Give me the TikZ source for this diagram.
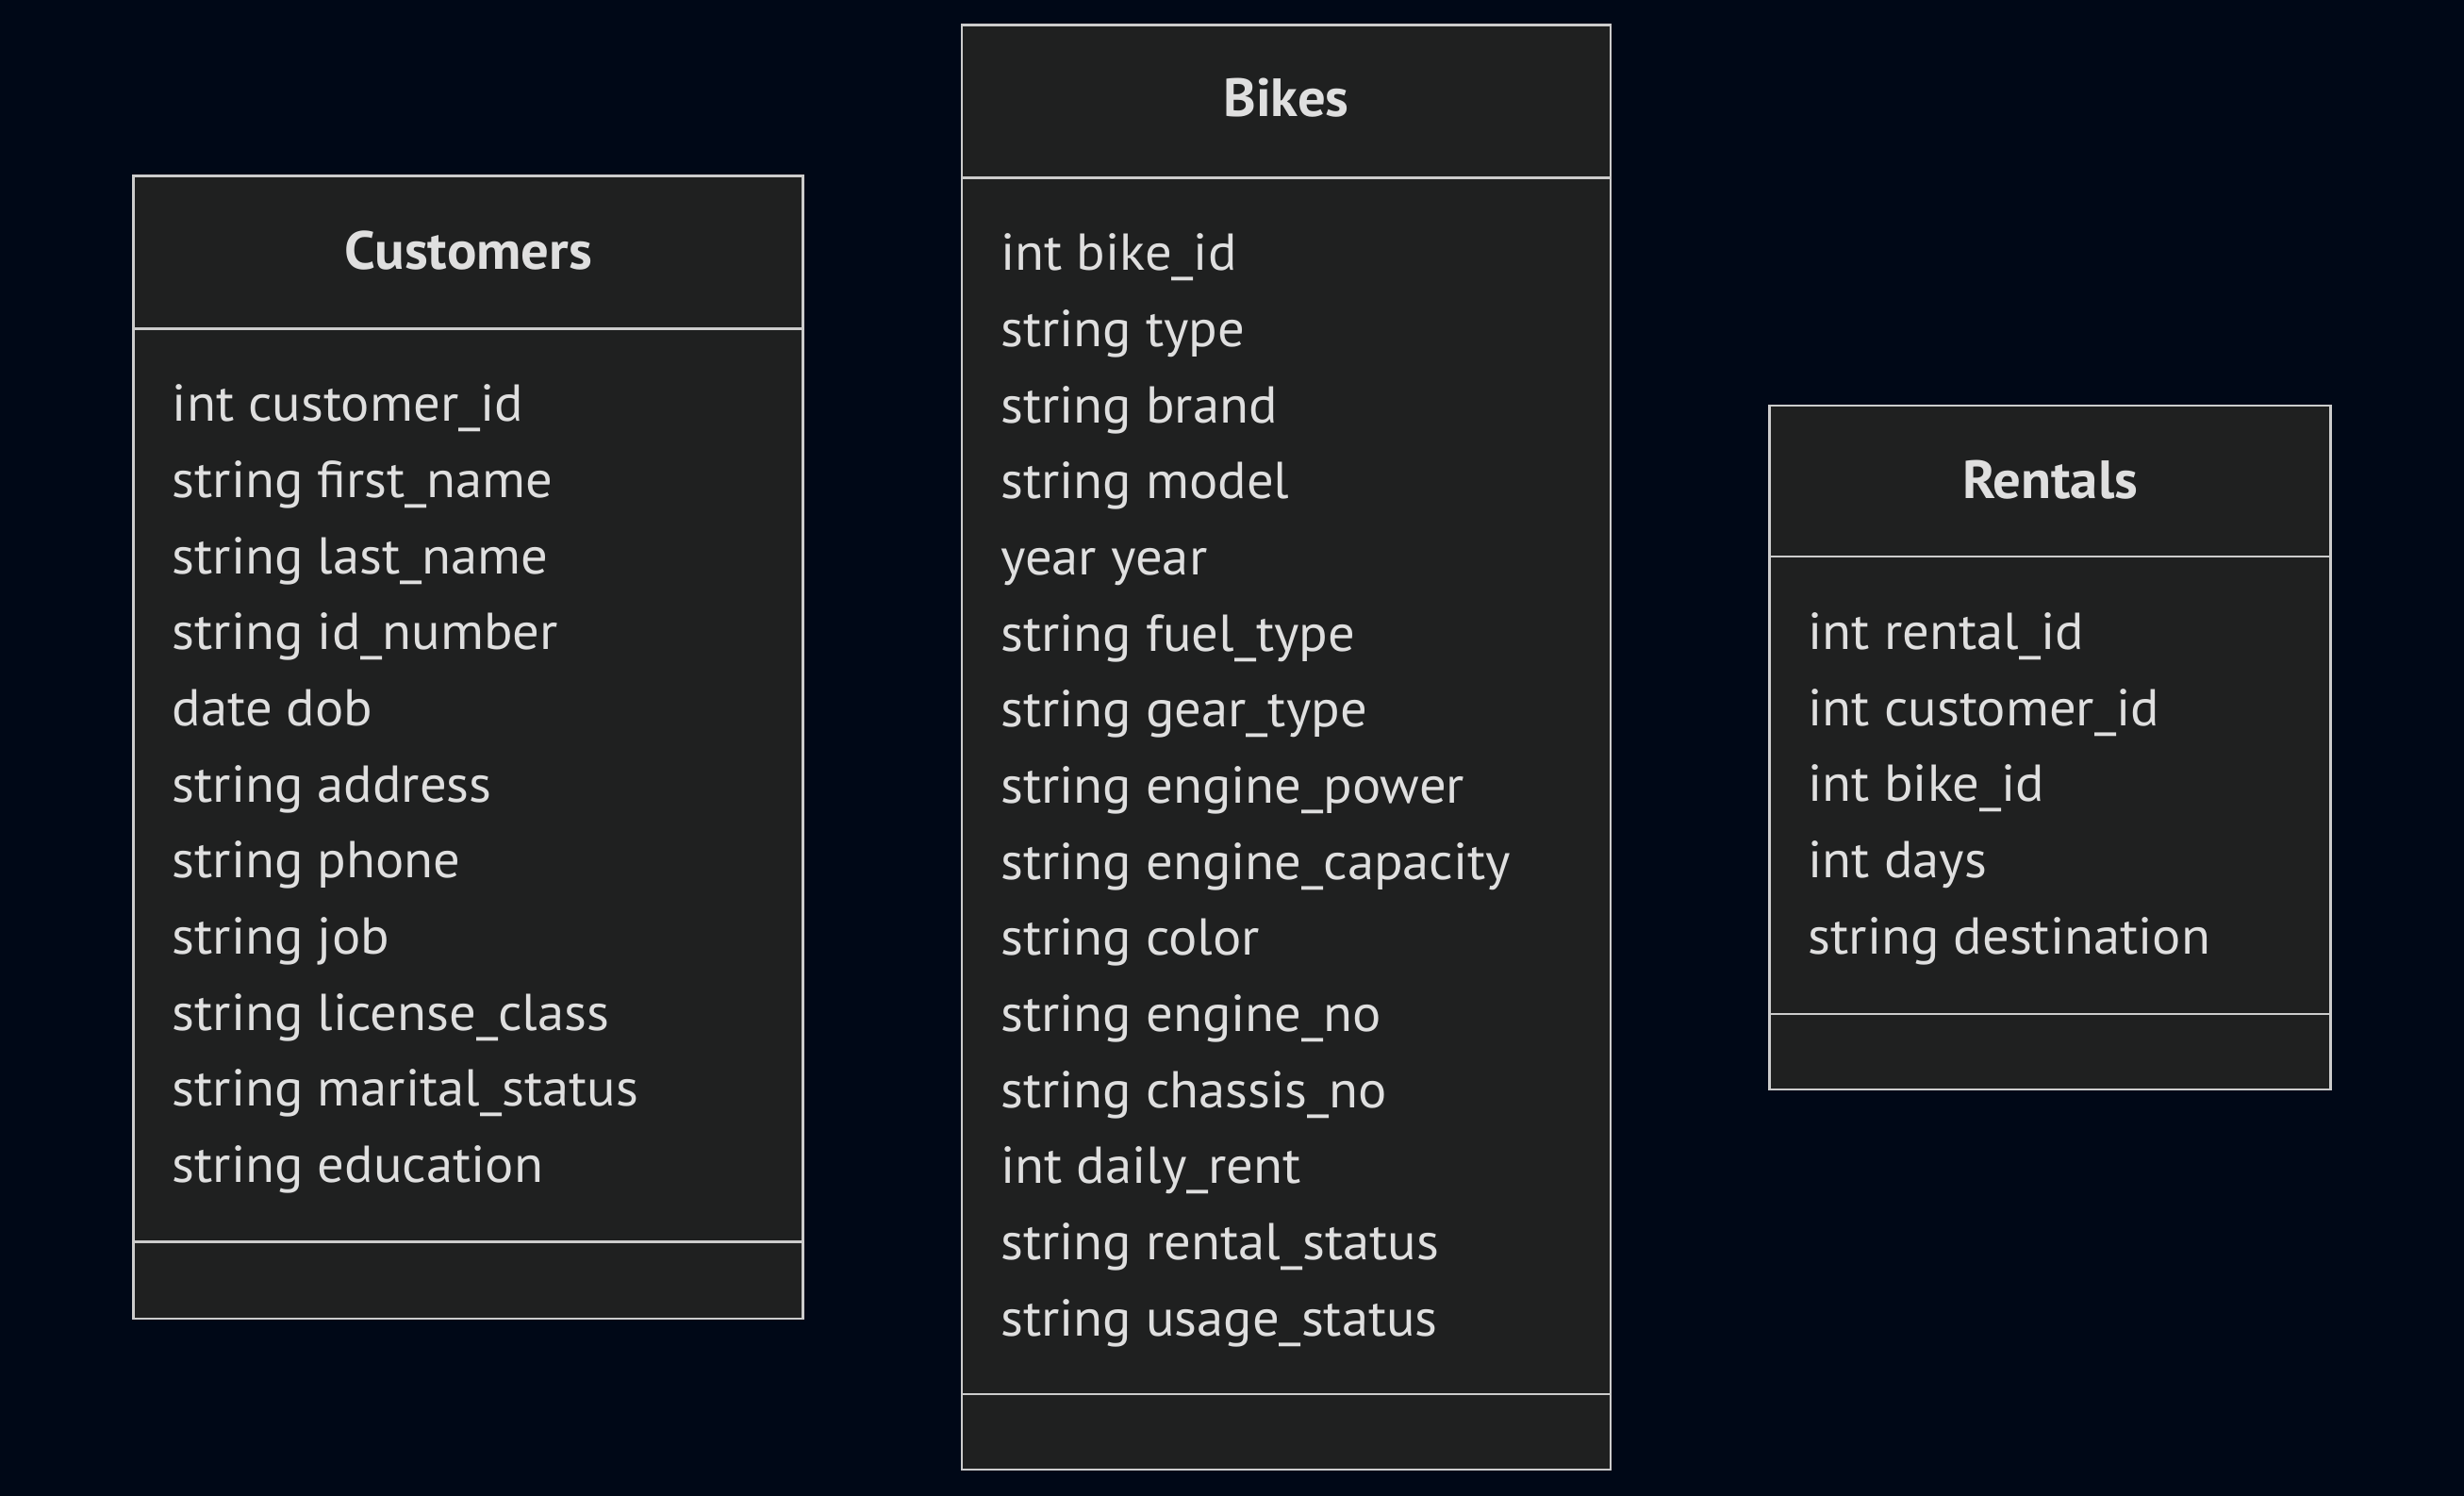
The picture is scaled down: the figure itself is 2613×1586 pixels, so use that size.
\documentclass[tikz,border=0pt]{standalone}
\usepackage{fontspec}
\setmainfont{PT Sans}[FakeStretch=1.03]
\definecolor{bgnavy}{HTML}{000817}
\definecolor{boxfill}{HTML}{1F2020}
\definecolor{boxline}{HTML}{CCCCCC}
\definecolor{boxtext}{HTML}{DFDFDF}
\tikzset{every picture/.style={line width=2.5pt},
  classbox/.style={draw=boxline,fill=boxfill},
  title/.style={anchor=base,inner sep=0pt,text=boxtext,font=\fontsize{57}{60}\selectfont\bfseries},
  attr/.style={anchor=base west,inner sep=0pt,text=boxtext,font=\fontsize{55}{60}\selectfont}}
\begin{document}
\begin{tikzpicture}[x=1pt,y=1pt,yscale=-1,xscale=1]
%set diagram size 2613 x 1586
\fill[bgnavy] (0,0) rectangle (2613,1586);
\useasboundingbox (0,0) rectangle (2613,1586);

%Shape: Class box Customers
\draw [classbox] (141.7,186.6) rectangle (851.6,1398.2);
\draw [draw=boxline] (141.7,348.3) -- (851.6,348.3);
\draw [draw=boxline] (141.7,1316.5) -- (851.6,1316.5);
% Text Node
\node [title] (cust_title) at (496.6,286) {Customers};
\node [attr] (cust_a1) at (181.6,446.7) {int customer\_id};
\node [attr] (cust_a2) at (181.6,527.4) {string first\_name};
\node [attr] (cust_a3) at (181.6,608.0) {string last\_name};
\node [attr] (cust_a4) at (181.6,688.7) {string id\_number};
\node [attr] (cust_a5) at (181.6,769.4) {date dob};
\node [attr] (cust_a6) at (181.6,850.0) {string address};
\node [attr] (cust_a7) at (181.6,930.7) {string phone};
\node [attr] (cust_a8) at (181.6,1011.4) {string job};
\node [attr] (cust_a9) at (181.6,1092.1) {string license\_class};
\node [attr] (cust_a10) at (181.6,1172.7) {string marital\_status};
\node [attr] (cust_a11) at (181.6,1253.4) {string education};

%Shape: Class box Bikes
\draw [classbox] (1019.9,26.7) rectangle (1708.2,1558.2);
\draw [draw=boxline] (1019.9,188.3) -- (1708.2,188.3);
\draw [draw=boxline] (1019.9,1478.2) -- (1708.2,1478.2);
% Text Node
\node [title] (bike_title) at (1364,124) {Bikes};
\node [attr] (bike_a1) at (1060,286.7) {int bike\_id};
\node [attr] (bike_a2) at (1060,367.4) {string type};
\node [attr] (bike_a3) at (1060,448.0) {string brand};
\node [attr] (bike_a4) at (1060,528.7) {string model};
\node [attr] (bike_a5) at (1060,609.4) {year year};
\node [attr] (bike_a6) at (1060,690.0) {string fuel\_type};
\node [attr] (bike_a7) at (1060,770.7) {string gear\_type};
\node [attr] (bike_a8) at (1060,851.4) {string engine\_power};
\node [attr] (bike_a9) at (1060,932.1) {string engine\_capacity};
\node [attr] (bike_a10) at (1060,1012.7) {string color};
\node [attr] (bike_a11) at (1060,1093.4) {string engine\_no};
\node [attr] (bike_a12) at (1060,1174.1) {string chassis\_no};
\node [attr] (bike_a13) at (1060,1254.7) {int daily\_rent};
\node [attr] (bike_a14) at (1060,1335.4) {string rental\_status};
\node [attr] (bike_a15) at (1060,1416.1) {string usage\_status};

%Shape: Class box Rentals
\draw [classbox] (1876.5,430) rectangle (2471.4,1154.9);
\draw [draw=boxline] (1876.5,590) -- (2471.4,590);
\draw [draw=boxline] (1876.5,1074.9) -- (2471.4,1074.9);
% Text Node
\node [title] (rent_title) at (2174,528.3) {Rentals};
\node [attr] (rent_a1) at (1916.5,688.3) {int rental\_id};
\node [attr] (rent_a2) at (1916.5,769.0) {int customer\_id};
\node [attr] (rent_a3) at (1916.5,849.6) {int bike\_id};
\node [attr] (rent_a4) at (1916.5,930.3) {int days};
\node [attr] (rent_a5) at (1916.5,1011.0) {string destination};
\end{tikzpicture}
\end{document}
